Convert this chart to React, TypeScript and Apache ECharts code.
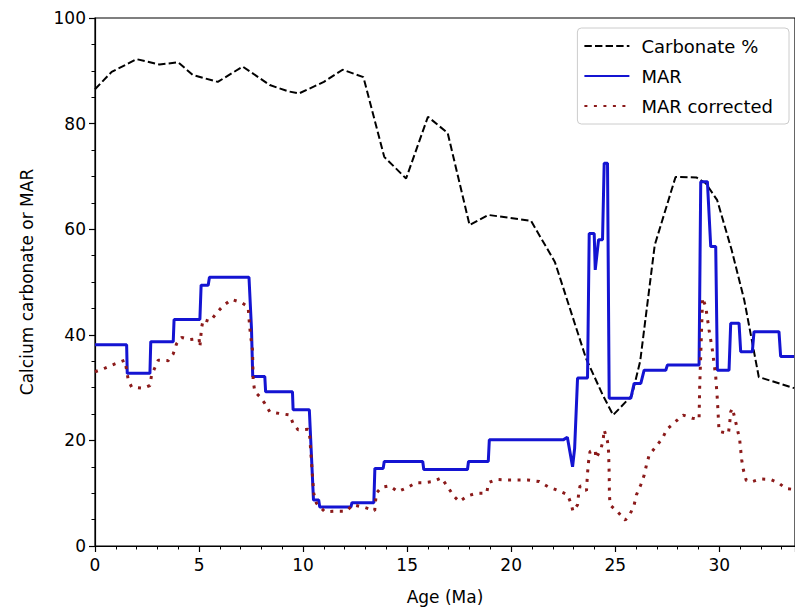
import React, { useEffect, useRef } from "react";
import * as echarts from "echarts";

const carbAge = [0, 0.8, 2.0, 3.1, 4.0, 4.7, 5.9, 7.1, 8.4, 9.3, 9.8, 11.0, 11.9, 12.9, 13.9, 14.95, 16.0, 16.95, 18.0, 18.9, 20.95, 22.1, 23.6, 24.4, 24.9, 25.8, 26.2, 26.9, 27.9, 28.9, 29.35, 29.9, 30.6, 31.2, 31.9, 33.6];
const carbPct = [86.5, 89.8, 92.2, 91.2, 91.6, 89.2, 87.9, 90.8, 87.3, 86.1, 85.7, 87.9, 90.2, 88.8, 73.7, 69.6, 81.3, 78.2, 60.8, 62.7, 61.6, 53.8, 35.5, 28.6, 24.8, 28.5, 35, 57, 69.9, 69.8, 68.7, 65.5, 56, 46.6, 32, 29.9];

const marAge = [0, 1.52, 1.55, 2.64, 2.68, 3.76, 3.8, 5.04, 5.1, 5.44, 5.5, 7.4, 7.52, 7.58, 8.16, 8.2, 9.49, 9.52, 10.3, 10.5, 10.75, 10.8, 12.3, 12.35, 13.4, 13.45, 13.85, 13.9, 15.75, 15.8, 17.9, 17.95, 18.9, 18.95, 22.5, 22.7, 22.95, 23.05, 23.19, 23.67, 23.75, 23.99, 24.04, 24.2, 24.39, 24.47, 24.63, 24.71, 25.75, 25.91, 26.23, 26.39, 27.43, 27.51, 29.03, 29.11, 29.43, 29.59, 29.83, 29.91, 30.47, 30.55, 30.95, 31.03, 31.59, 31.67, 32.87, 32.95, 33.6];
const marValue = [38.1, 38.1, 32.7, 32.7, 38.7, 38.7, 42.9, 42.9, 49.4, 49.4, 50.9, 50.9, 41.2, 32.1, 32.1, 29.2, 29.2, 25.8, 25.8, 8.7, 8.7, 7.4, 7.4, 8.2, 8.2, 14.7, 14.7, 16.0, 16.0, 14.5, 14.5, 16.0, 16.0, 20.1, 20.1, 20.6, 15.0, 18.5, 31.8, 31.8, 59.2, 59.2, 52.3, 58, 58, 72.5, 72.5, 28, 28, 30.8, 30.8, 33.3, 33.3, 34.3, 34.3, 69.0, 69.0, 56.7, 56.7, 33.3, 33.3, 42.2, 42.2, 36.8, 36.8, 40.6, 40.6, 35.9, 35.9];

const corrAge = [0, 0.48, 0.96, 1.44, 1.6, 1.76, 2.32, 2.64, 2.72, 3.04, 3.52, 3.76, 3.92, 4.16, 4.56, 5.0, 5.04, 5.12, 5.2, 5.52, 5.84, 6.16, 6.56, 7.04, 7.36, 7.4, 7.47, 7.57, 7.6, 7.68, 7.92, 8.16, 8.4, 8.88, 9.36, 9.52, 9.76, 10.24, 10.32, 10.51, 10.64, 11.04, 11.6, 12.08, 12.39, 12.96, 13.44, 13.52, 13.76, 14.16, 14.55, 15.03, 15.44, 15.83, 16.23, 16.64, 16.95, 17.23, 17.51, 17.91, 18.34, 18.82, 18.92, 19.28, 19.83, 20.31, 20.79, 21.35, 21.79, 22.26, 22.71, 22.87, 22.97, 23.19, 23.24, 23.31, 23.62, 23.67, 23.72, 23.79, 24.04, 24.07, 24.31, 24.42, 24.47, 24.63, 24.68, 24.71, 24.72, 24.75, 25.11, 25.48, 25.7, 25.91, 26.02, 26.23, 26.39, 26.5, 26.63, 26.95, 27.27, 27.48, 27.88, 28.26, 28.71, 29.03, 29.06, 29.2, 29.35, 29.51, 29.67, 29.83, 29.91, 29.99, 30.44, 30.5, 30.55, 30.63, 30.76, 30.87, 30.98, 31.03, 31.08, 31.16, 31.3, 31.59, 31.99, 32.47, 32.87, 33.19, 33.6];
const corrValue = [33.0, 33.7, 34.5, 35.2, 31.4, 30.1, 29.9, 30.4, 32.4, 35.2, 35.1, 36.4, 38.3, 39.5, 39.1, 39.3, 37.7, 41.3, 42.9, 42.5, 44.1, 45.5, 46.7, 46.1, 45.3, 43.1, 40.0, 37.1, 31.4, 29.2, 28.3, 27.0, 25.4, 25.1, 24.8, 23.2, 22.0, 22.1, 20.7, 10.0, 8.1, 6.5, 6.6, 6.6, 7.8, 7.3, 6.7, 10.0, 11.1, 11.4, 10.3, 11.1, 12.0, 12.0, 12.2, 12.9, 11.2, 9.5, 8.4, 9.5, 10.0, 10.0, 12.0, 12.6, 12.5, 12.5, 12.5, 12.2, 11.2, 10.5, 9.7, 8.1, 6.6, 7.8, 9.8, 11.4, 10.5, 13.8, 16.0, 17.9, 18.2, 16.6, 18.3, 20.1, 22.0, 19.8, 17.9, 13.8, 10.0, 7.8, 6.5, 4.9, 5.9, 7.8, 9.7, 11.6, 13.4, 15.3, 17.2, 18.8, 20.4, 22.1, 23.5, 24.8, 24.2, 24.0, 30.2, 47.0, 45.3, 40.9, 37.1, 32.1, 27.7, 21.7, 21.3, 23.2, 25.4, 26.1, 24.0, 22.1, 20.2, 18.2, 16.3, 14.4, 12.4, 12.2, 12.7, 12.6, 11.9, 10.9, 10.7];

const xTickInterval = 5;
const yTickInterval = 20;

const zip = (a: number[], b: number[]) => a.map((v, i) => [v, b[i]]);

export default function App() {
  const ref = useRef<HTMLDivElement>(null);
  useEffect(() => {
    document.body.style.margin = "0";
    const chart = echarts.init(ref.current!, undefined, { renderer: "svg" });
    const font = "DejaVu Sans";
    chart.setOption({
      animation: false,
      backgroundColor: "#ffffff",
      textStyle: { fontFamily: font, color: "#000" },
      grid: {
        left: 95, top: 18, right: -1, bottom: 66,
        show: true, borderColor: "#000", borderWidth: 1.2,
      },
      legend: {
        orient: "vertical",
        right: 6,
        top: 28,
        padding: [8, 16, 8, 6],
        borderColor: "#cccccc",
        borderWidth: 1,
        borderRadius: 4,
        backgroundColor: "rgba(255,255,255,0.85)",
        itemWidth: 45,
        itemHeight: 14,
        itemGap: 10,
        itemStyle: { opacity: 0 },
        textStyle: { fontFamily: font, fontSize: 18, color: "#000", lineHeight: 20, padding: [0, 0, 0, 7] },
        data: ["Carbonate %", "MAR", "MAR corrected"],
      },
      xAxis: {
        type: "value",
        min: 0,
        max: 33.64,
        interval: xTickInterval,
        name: "Age (Ma)",
        nameLocation: "middle",
        nameGap: 42,
        nameTextStyle: { fontFamily: font, fontSize: 17, color: "#000" },
        axisLine: { lineStyle: { color: "#000", width: 1.2 } },
        axisTick: { show: true, length: 6, lineStyle: { color: "#000", width: 1.2 } },
        minorTick: { show: true, splitNumber: 5, length: 3.5, lineStyle: { color: "#000", width: 1 } },
        axisLabel: { fontFamily: font, fontSize: 17, color: "#000", margin: 10, showMaxLabel: false },
        splitLine: { show: false },
      },
      yAxis: {
        type: "value",
        min: 0,
        max: 100,
        interval: yTickInterval,
        name: "Calcium carbonate or MAR",
        nameLocation: "middle",
        nameGap: 60,
        nameTextStyle: { fontFamily: font, fontSize: 17, color: "#000" },
        axisLine: { show: true, lineStyle: { color: "#000", width: 1.2 } },
        axisTick: { show: true, length: 6, lineStyle: { color: "#000", width: 1.2 } },
        minorTick: { show: true, splitNumber: 4, length: 3.5, lineStyle: { color: "#000", width: 1 } },
        axisLabel: { fontFamily: font, fontSize: 17, color: "#000", margin: 9 },
        splitLine: { show: false },
      },
      series: [
        {
          name: "Carbonate %",
          type: "line",
          data: zip(carbAge, carbPct),
          showSymbol: false,
          symbol: "none",
          color: "#000",
          lineStyle: { color: "#000", width: 2, type: [7.4, 3.2] },
        },
        {
          name: "MAR",
          type: "line",
          data: zip(marAge, marValue),
          showSymbol: false,
          symbol: "none",
          color: "#1414d2",
          lineStyle: { color: "#1414d2", width: 3 },
        },
        {
          name: "MAR corrected",
          type: "line",
          data: zip(corrAge, corrValue),
          showSymbol: false,
          symbol: "none",
          color: "#8b1a1a",
          lineStyle: { color: "#8b1a1a", width: 3, type: [3, 6.5] },
        },
      ],
    });
    return () => chart.dispose();
  }, []);
  return <div ref={ref} style={{ width: 795, height: 612 }} />;
}
